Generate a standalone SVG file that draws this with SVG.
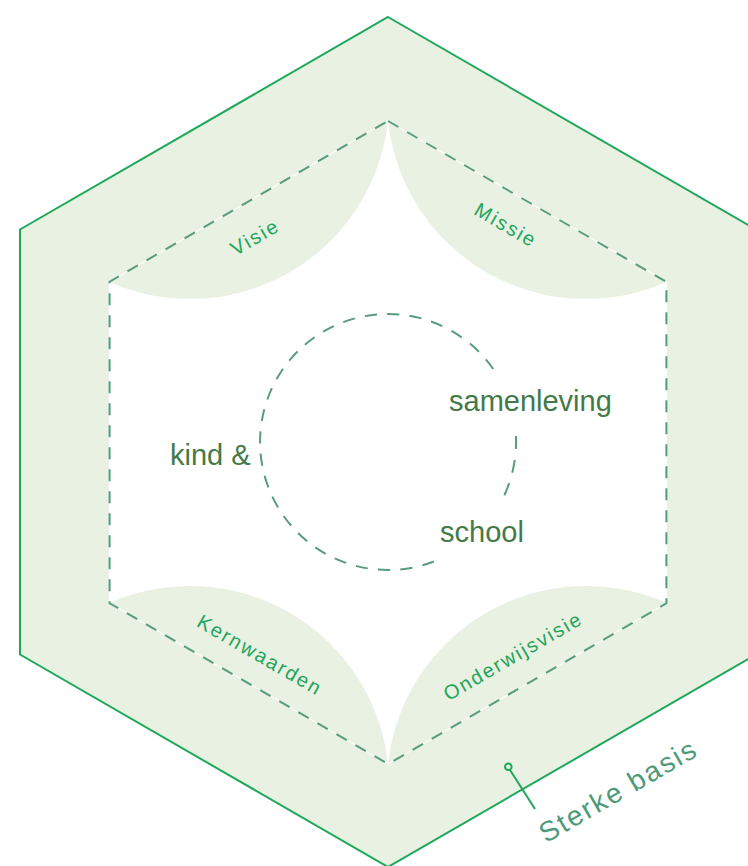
<svg xmlns="http://www.w3.org/2000/svg" width="748" height="866" viewBox="0 0 748 866">
<style>
.lbl{font-family:"Liberation Sans",Arial,sans-serif;font-size:20px;fill:#22a55b;letter-spacing:2px;text-anchor:middle}
.core{font-family:"Liberation Sans",Arial,sans-serif;font-size:29px;fill:#437a47}
.dash{fill:none;stroke:#579c7c;stroke-width:2;stroke-dasharray:12 10}
.petal{fill:#e9f1e3}
</style>
<defs>
<clipPath id="innerClip"><polygon points="388,121 666.4,281.75 666.4,603.25 388,764 109.6,603.25 109.6,281.75"/></clipPath>
</defs>
<rect width="748" height="866" fill="#ffffff"/>
<g id="outer-hexagon">
<polygon points="388,17 756,229.5 756,654.5 388,867 20,654.5 20,229.5" fill="#e9f1e3" stroke="#1ea85c" stroke-width="2"/>
</g>
<g id="inner-hexagon">
<polygon points="388,121 666.4,281.75 666.4,603.25 388,764 109.6,603.25 109.6,281.75" fill="#ffffff"/>
<g clip-path="url(#innerClip)">
<circle class="petal" cx="190" cy="100" r="199"/>
<circle class="petal" cx="586" cy="100" r="199"/>
<circle class="petal" cx="190" cy="785" r="199"/>
<circle class="petal" cx="586" cy="785" r="199"/>
</g>
<polygon points="388,121 666.4,281.75 666.4,603.25 388,764 109.6,603.25 109.6,281.75" fill="none" stroke="#ffffff" stroke-width="1"/>
<polygon class="dash" points="388,121 666.4,281.75 666.4,603.25 388,764 109.6,603.25 109.6,281.75"/>
</g>
<g id="visie"><text class="lbl" x="258.5" y="243" transform="rotate(-30 258.5 243)">Visie</text></g>
<g id="missie"><text class="lbl" x="502.5" y="231" transform="rotate(30 502.5 231)">Missie</text></g>
<g id="kernwaarden"><text class="lbl" x="256.5" y="661" transform="rotate(30 256.5 661)">Kernwaarden</text></g>
<g id="onderwijsvisie"><text class="lbl" x="516.5" y="662" transform="rotate(-30 516.5 662)">Onderwijsvisie</text></g>
<g id="core">
<path class="dash" stroke-dasharray="13 11" pathLength="61" d="M 515.9 436.0 A 128 128 0 0 1 502.0 500.1"/>
<path class="dash" stroke-dasharray="13 11" pathLength="565" d="M 433.9 561.5 A 128 128 0 1 1 494.9 371.5"/>
<text class="core" x="170" y="465">kind &amp;</text>
<text class="core" x="449" y="411">samenleving</text>
<text class="core" x="440" y="542">school</text>
</g>
<g id="sterke-basis">
<text x="623" y="799" transform="rotate(-30 623 799)" font-family="Liberation Sans, Arial, sans-serif" font-size="28" letter-spacing="2" fill="#4e9a78" text-anchor="middle">Sterke basis</text>
</g>
<g id="connectors">
<circle cx="508.3" cy="766.7" r="3.3" fill="none" stroke="#1ea85c" stroke-width="2"/>
<line x1="510" y1="770" x2="535" y2="809" stroke="#1ea85c" stroke-width="2"/>
</g>
</svg>
